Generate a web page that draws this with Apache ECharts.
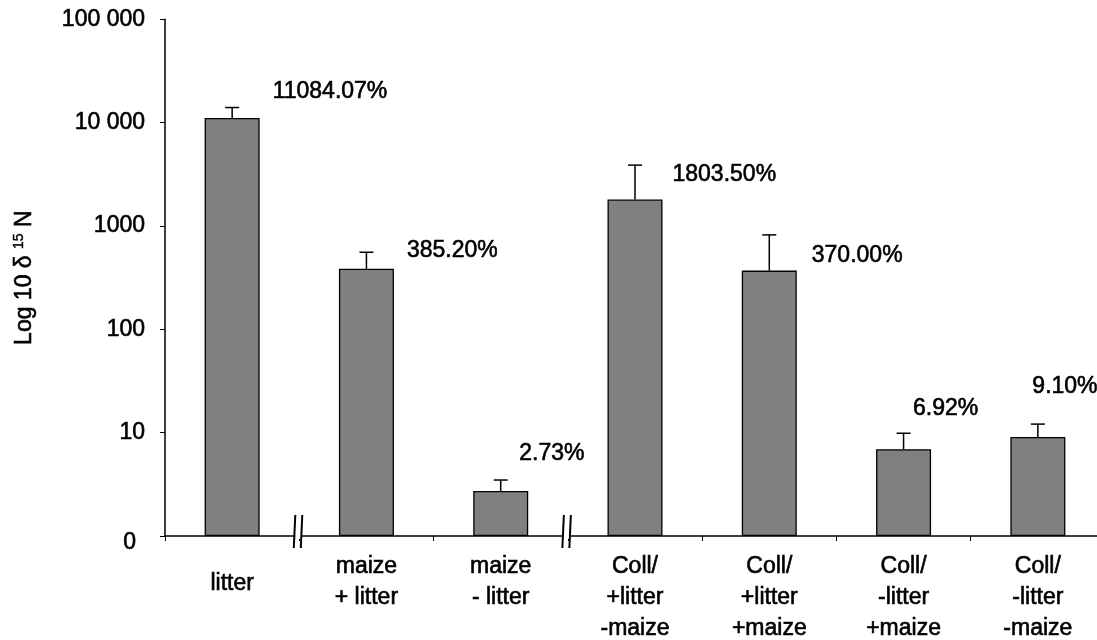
<!DOCTYPE html>
<html><head><meta charset="utf-8">
<script src="https://cdn.jsdelivr.net/npm/echarts@6/dist/echarts.min.js"></script>
<style>html,body{margin:0;padding:0;background:#fff}#c{width:1097px;height:640px}</style>
</head><body><div id="c"></div>
<script>
const categories = ['litter', 'maize\n+ litter', 'maize\n- litter', 'Coll/\n+litter\n-maize', 'Coll/\n+litter\n+maize', 'Coll/\n-litter\n+maize', 'Coll/\n-litter\n-maize'];
const values = [11084.07, 385.20, 2.73, 1803.50, 370.00, 6.92, 9.10];
const errorTop = [14000, 557, 3.48, 3880, 820, 9.87, 12.1];
const valueLabels = ['11084.07%', '385.20%', '2.73%', '1803.50%', '370.00%', '6.92%', '9.10%'];
const yTicks = [1, 10, 100, 1000, 10000, 100000];
const yTickLabels = ['0', '10', '100', '1000', '10 000', '100 000'];
const breakAfter = [0, 2];
// label offsets (px) relative to bar's top-right corner
const labelDx = [13, 13, -9, 10, 15, -18, -33];
const labelDy = [-26, -18, -37, -25, -15, -41, -50];

const FONT = '"Liberation Sans", Arial, sans-serif';
const THICK = {textBorderColor: '#000', textBorderWidth: 0.6};
const BAR_W = 55;
const chart = echarts.init(document.getElementById('c'), null, {renderer: 'canvas'});

const xData = categories.map((c, i) => i === 0 ? {value: c, textStyle: {lineHeight: 65}} : c);

const option = {
  animation: false,
  backgroundColor: '#fff',
  grid: {left: 165, top: 19.3, width: 940, height: 516.7, containLabel: false, outerBoundsMode: 'none'},
  xAxis: {
    type: 'category',
    data: xData,
    axisLine: {show: true, lineStyle: {color: '#000', width: 1.5}},
    axisTick: {show: true, length: 5, lineStyle: {color: '#000', width: 1}},
    axisLabel: Object.assign({color: '#000', fontFamily: FONT, fontSize: 23, lineHeight: 31, margin: 15.5, interval: 0}, THICK)
  },
  yAxis: {
    type: 'log',
    logBase: 10,
    min: 1,
    max: 100000,
    name: '{a|Log 10 δ }{s|15}{a| N}',
    nameLocation: 'middle',
    nameRotate: 90,
    nameGap: 127,
    nameTextStyle: {
      color: '#000',
      rich: {
        a: Object.assign({fontFamily: FONT, fontSize: 23, color: '#000', lineHeight: 26}, THICK),
        s: Object.assign({fontFamily: FONT, fontSize: 14, color: '#000', verticalAlign: 'top', lineHeight: 26}, {textBorderColor: '#000', textBorderWidth: 0.4})
      }
    },
    axisLine: {show: true, lineStyle: {color: '#000', width: 1.5}},
    axisTick: {show: true, length: 5, lineStyle: {color: '#000', width: 1}},
    splitLine: {show: false},
    minorTick: {show: false},
    axisLabel: Object.assign({
      color: '#000', fontFamily: FONT, fontSize: 23, margin: 20,
      formatter: function (v) {
        const i = yTicks.findIndex(t => Math.abs(t - v) / t < 1e-6);
        if (i < 0) return '';
        if (i === 0) return '{z|' + yTickLabels[i] + '}';
        return yTickLabels[i];
      },
      rich: {z: Object.assign({fontFamily: FONT, fontSize: 23, color: '#000', padding: [14, 9, 0, 0]}, THICK)}
    }, THICK)
  },
  series: [
    {
      type: 'bar',
      data: values,
      barWidth: BAR_W,
      itemStyle: {color: '#808080', borderColor: '#000', borderWidth: 1.3},
      z: 2
    },
    {
      type: 'custom',
      data: values.map((v, i) => [i, v, errorTop[i]]),
      z: 3,
      renderItem: function (params, api) {
        const i = api.value(0);
        const top = api.coord([i, api.value(1)]);
        const err = api.coord([i, api.value(2)]);
        const x = top[0];
        return {
          type: 'group',
          children: [
            {type: 'line', shape: {x1: x, y1: top[1], x2: x, y2: err[1]}, style: {stroke: '#000', lineWidth: 1.5}},
            {type: 'line', shape: {x1: x - 7, y1: err[1], x2: x + 7, y2: err[1]}, style: {stroke: '#000', lineWidth: 1.5}}
          ]
        };
      }
    },
    {
      type: 'custom',
      data: values.map((v, i) => [i, v]),
      z: 4,
      renderItem: function (params, api) {
        const i = api.value(0);
        const top = api.coord([i, api.value(1)]);
        return {
          type: 'text',
          x: top[0] + BAR_W / 2 + labelDx[i],
          y: top[1] + labelDy[i],
          style: {text: valueLabels[i], fontFamily: FONT, fontSize: 23, fill: '#000', align: 'left', verticalAlign: 'middle', stroke: '#000', lineWidth: 0.6}
        };
      }
    }
  ]
};
chart.setOption(option);

// axis break marks
const graphics = [];
breakAfter.forEach(function (ci) {
  const a = chart.convertToPixel({xAxisIndex: 0}, ci);
  const b = chart.convertToPixel({xAxisIndex: 0}, ci + 1);
  const bx = (a + b) / 2 - 1;
  const ay = chart.convertToPixel({yAxisIndex: 0}, 1);
  graphics.push({type: 'rect', shape: {x: bx - 3, y: ay - 3, width: 6, height: 6}, style: {fill: '#fff'}, z: 10});
  graphics.push({type: 'line', shape: {x1: bx - 4.5, y1: ay + 12, x2: bx - 3, y2: ay - 21}, style: {stroke: '#000', lineWidth: 2}, z: 11});
  graphics.push({type: 'line', shape: {x1: bx + 2.5, y1: ay + 12, x2: bx + 4, y2: ay - 21}, style: {stroke: '#000', lineWidth: 2}, z: 11});
});
chart.setOption({graphic: graphics});
</script>
</body></html>
